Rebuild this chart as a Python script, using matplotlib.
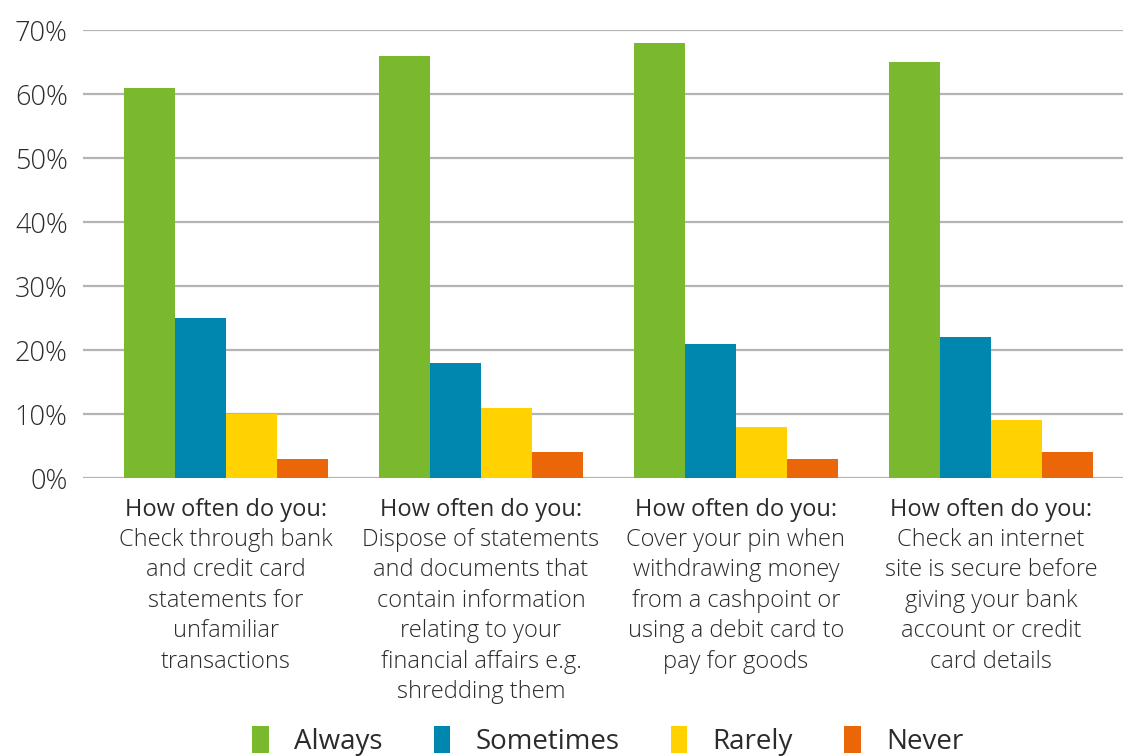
import matplotlib.pyplot as plt
import numpy as np

# survey answers, percent of respondents
series = ['Always', 'Sometimes', 'Rarely', 'Never']
always = [61, 66, 68, 65]
sometimes = [25, 18, 21, 22]
rarely = [10, 11, 8, 9]
never = [3, 4, 3, 4]
questions = [
    'Check through bank\nand credit card\nstatements for\nunfamiliar\ntransactions',
    'Dispose of statements\nand documents that\ncontain information\nrelating to your\nfinancial affairs e.g.\nshredding them',
    'Cover your pin when\nwithdrawing money\nfrom a cashpoint or\nusing a debit card to\npay for goods',
    'Check an internet\nsite is secure before\ngiving your bank\naccount or credit\ncard details',
]
yticks = [0, 10, 20, 30, 40, 50, 60, 70]

colors = ['#7ab92e', '#0087b0', '#ffd200', '#eb6608']
text_col = '#2b2b2b'

plt.rcParams['font.family'] = ['Open Sans', 'DejaVu Sans']

fig = plt.figure(figsize=(11.23, 7.56), dpi=100)
ax = fig.add_axes([0.0739, 0.3677, 0.9261, 0.5926])

x = np.arange(len(questions))
w = 0.2
bars = []
for i, (name, vals) in enumerate(zip(series, [always, sometimes, rarely, never])):
    b = ax.bar(x - 1.5 * w + i * w, vals, w, color=colors[i], label=name, zorder=3)
    bars.append(b)

ax.set_xlim(-0.561, 3.518)
ax.set_ylim(0, 70)
ax.set_yticks(yticks)
ax.set_yticklabels([f'{t}%' for t in yticks], fontsize=19.5, color=text_col,
                   fontweight='light')
ax.set_xticks([])
ax.tick_params(axis='y', length=0, pad=11)
ax.yaxis.grid(True, color='#b4b4b4', linewidth=1.6, zorder=0)
for s in ax.spines.values():
    s.set_visible(False)

# category captions under each group
for xi, q in zip(x, questions):
    ax.annotate('How often do you:', xy=(xi, 0), xycoords=('data', 'axes fraction'),
                xytext=(0, -20), textcoords='offset pixels', ha='center', va='top',
                fontsize=17, color=text_col, fontweight='medium')
    ax.annotate(q, xy=(xi, 0), xycoords=('data', 'axes fraction'),
                xytext=(0, -50), textcoords='offset pixels', ha='center', va='top',
                fontsize=17, color=text_col, linespacing=1.36, fontweight='light')

fig.legend(handles=bars, labels=series, loc='center', bbox_to_anchor=(0.541, 0.02),
           ncol=4, frameon=False, fontsize=20, handlelength=0.6, handleheight=1.1,
           columnspacing=1.85, handletextpad=0.9, labelcolor=text_col)

fig.savefig('out.png', dpi=100)
